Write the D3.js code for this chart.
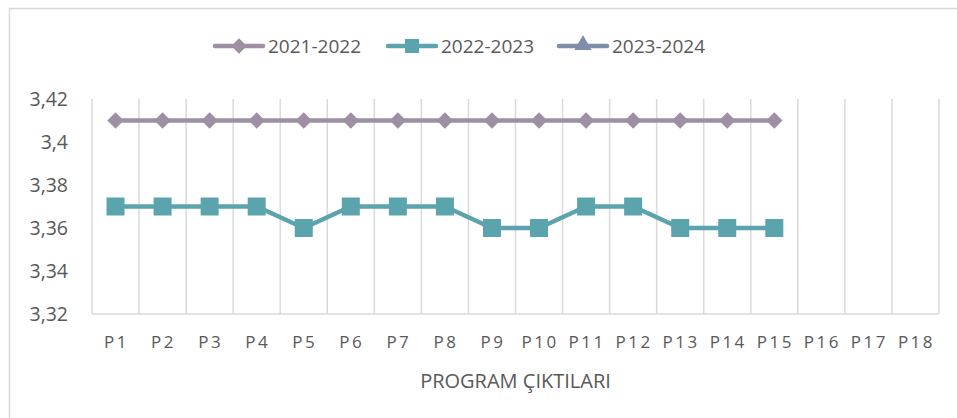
<!DOCTYPE html>
<html>
<head>
<meta charset="utf-8">
<script src="https://cdn.jsdelivr.net/npm/d3@7"></script>
<style>
  body { margin: 0; background: #fff; }
  text { font-family: "Open Sans", sans-serif; fill: #595959; }
</style>
</head>
<body>
<div id="chart"></div>
<script>
const categories = ['P1','P2','P3','P4','P5','P6','P7','P8','P9','P10','P11','P12','P13','P14','P15','P16','P17','P18'];
const series2122 = [3.41,3.41,3.41,3.41,3.41,3.41,3.41,3.41,3.41,3.41,3.41,3.41,3.41,3.41,3.41];
const series2223 = [3.37,3.37,3.37,3.37,3.36,3.37,3.37,3.37,3.36,3.36,3.37,3.37,3.36,3.36,3.36];
const series2324 = [];
const yTicks = [3.32, 3.34, 3.36, 3.38, 3.40, 3.42];

const seriesList = [
    { name: '2021-2022', values: series2122, color: '#9e8fa3', symbol: 'diamond' },
    { name: '2022-2023', values: series2223, color: '#5ba4ae', symbol: 'square' },
    { name: '2023-2024', values: series2324, color: '#7f8faa', symbol: 'triangle' }
];

const width = 957, height = 418;
const margin = { top: 99, right: 18, bottom: 104, left: 92 };
const innerW = width - margin.left - margin.right;
const innerH = height - margin.top - margin.bottom;

const svg = d3.select('#chart').append('svg')
    .attr('width', width)
    .attr('height', height);

// outer chart border
svg.append('rect')
    .attr('x', 9.5).attr('y', 8.5)
    .attr('width', 960).attr('height', 420)
    .attr('fill', 'none')
    .attr('stroke', '#d9d9d9')
    .attr('stroke-width', 1.5);

const g = svg.append('g')
    .attr('transform', `translate(${margin.left},${margin.top})`);

const x = d3.scaleBand().domain(categories).range([0, innerW]);
const y = d3.scaleLinear().domain([3.32, 3.42]).range([innerH, 0]);

// vertical gridlines at category boundaries
const bounds = categories.map(c => x(c)).concat([innerW]);
g.selectAll('.vgrid')
    .data(bounds)
    .enter().append('line')
    .attr('x1', d => d).attr('x2', d => d)
    .attr('y1', 0).attr('y2', innerH)
    .attr('stroke', '#d9d9d9')
    .attr('stroke-width', 1.5);

// bottom axis line
g.append('line')
    .attr('x1', 0).attr('x2', innerW)
    .attr('y1', innerH).attr('y2', innerH)
    .attr('stroke', '#d9d9d9')
    .attr('stroke-width', 1.5);

// y tick labels
g.selectAll('.ylab')
    .data(yTicks)
    .enter().append('text')
    .attr('x', -24)
    .attr('y', d => y(d))
    .attr('dy', '0.35em')
    .attr('text-anchor', 'end')
    .style('font-size', '19.5px')
    .text(d => d3.format('.2~f')(d).replace('.', ','));

// x tick labels
g.selectAll('.xlab')
    .data(categories)
    .enter().append('text')
    .attr('x', d => x(d) + x.bandwidth() / 2 + 1)
    .attr('y', innerH + 34)
    .attr('text-anchor', 'middle')
    .style('font-size', '17px')
    .style('letter-spacing', '2.5px')
    .text(d => d);

// x axis title
g.append('text')
    .attr('x', innerW / 2)
    .attr('y', innerH + 74)
    .attr('text-anchor', 'middle')
    .style('font-size', '20px')
    .text('PROGRAM ÇIKTILARI');

const line = d3.line()
    .x((d, i) => x(categories[i]) + x.bandwidth() / 2)
    .y(d => y(d));

seriesList.forEach(s => {
    if (!s.values.length) return;
    g.append('path')
        .datum(s.values)
        .attr('fill', 'none')
        .attr('stroke', s.color)
        .attr('stroke-width', 4.5)
        .attr('stroke-linejoin', 'round')
        .attr('d', line);

    const sym = s.symbol === 'diamond'
        ? d3.symbol().type(d3.symbolSquare).size(135)()
        : d3.symbol().type(d3.symbolSquare).size(324)();

    g.selectAll(null)
        .data(s.values)
        .enter().append('path')
        .attr('transform', (d, i) => {
            const cx = x(categories[i]) + x.bandwidth() / 2;
            return `translate(${cx},${y(d)})` + (s.symbol === 'diamond' ? ' rotate(45)' : '');
        })
        .attr('d', sym)
        .attr('fill', s.color);
});

// legend
const legendX = [215, 388, 559];
const legend = svg.append('g').attr('transform', 'translate(0,46)');
seriesList.forEach((s, i) => {
    const lg = legend.append('g').attr('transform', `translate(${legendX[i]},0)`);
    lg.append('line')
        .attr('x1', 0).attr('x2', 48)
        .attr('y1', 0).attr('y2', 0)
        .attr('stroke', s.color)
        .attr('stroke-width', 4.5)
        .attr('stroke-linecap', 'round');
    let sym;
    if (s.symbol === 'diamond') sym = d3.symbol().type(d3.symbolSquare).size(120)();
    else if (s.symbol === 'square') sym = d3.symbol().type(d3.symbolSquare).size(196)();
    else sym = d3.symbol().type(d3.symbolTriangle).size(130)();
    lg.append('path')
        .attr('transform', `translate(24,${s.symbol === 'triangle' ? -1 : 0})` + (s.symbol === 'diamond' ? ' rotate(45)' : ''))
        .attr('d', sym)
        .attr('fill', s.color);
    lg.append('text')
        .attr('x', 53)
        .attr('y', 0)
        .attr('dy', '0.35em')
        .style('font-size', '19px')
        .text(s.name);
});
</script>
</body>
</html>
